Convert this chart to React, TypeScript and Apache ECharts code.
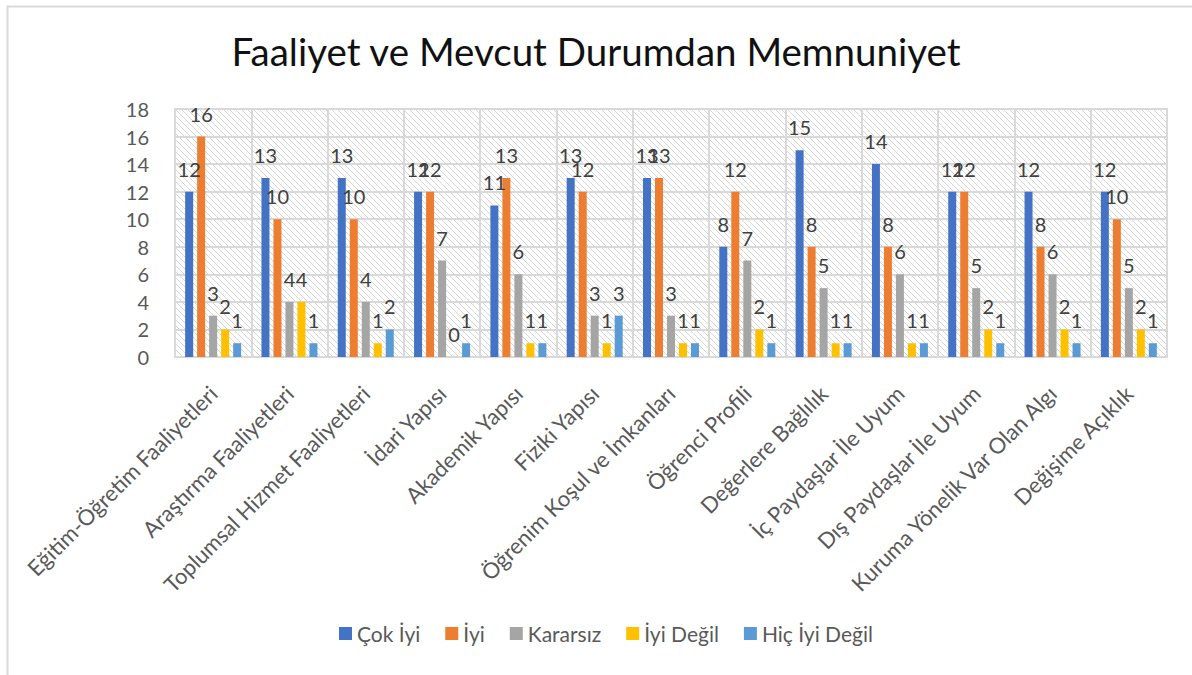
import React, { useEffect, useRef } from "react";
import * as echarts from "echarts";

const categories = [
  "Eğitim-Öğretim Faaliyetleri",
  "Araştırma Faaliyetleri",
  "Toplumsal Hizmet Faaliyetleri",
  "İdari Yapısı",
  "Akademik Yapısı",
  "Fiziki Yapısı",
  "Öğrenim Koşul ve İmkanları",
  "Öğrenci Profili",
  "Değerlere Bağlılık",
  "İç Paydaşlar İle Uyum",
  "Dış Paydaşlar İle Uyum",
  "Kuruma Yönelik Var Olan Algı",
  "Değişime Açıklık",
];

const seriesNames = ["Çok İyi", "İyi", "Kararsız", "İyi Değil", "Hiç İyi Değil"];
const cokIyi = [12, 13, 13, 12, 11, 13, 13, 8, 15, 14, 12, 12, 12];
const iyi = [16, 10, 10, 12, 13, 12, 13, 12, 8, 8, 12, 8, 10];
const kararsiz = [3, 4, 4, 7, 6, 3, 3, 7, 5, 6, 5, 6, 5];
const iyiDegil = [2, 4, 1, 0, 1, 1, 1, 2, 1, 1, 2, 2, 2];
const hicIyiDegil = [1, 1, 2, 1, 1, 3, 1, 1, 1, 1, 1, 1, 1];
const seriesData = [cokIyi, iyi, kararsiz, iyiDegil, hicIyiDegil];
const colors = ["#4472C4", "#ED7D31", "#A5A5A5", "#FFC000", "#5B9BD5"];
const yTicks = [0, 18, 2];

const FONT = "Lato, 'Open Sans', sans-serif";

export default function App() {
  const ref = useRef<HTMLDivElement>(null);
  useEffect(() => {
    if (!ref.current) return;
    const chart = echarts.init(ref.current, null, { renderer: "svg" });
    const tile =
      "data:image/svg+xml;utf8," +
      encodeURIComponent(
        "<svg xmlns='http://www.w3.org/2000/svg' width='6' height='6'><path d='M0,0 L6,6 M-1,5 L1,7 M5,-1 L7,1' stroke='#d6d6d6' stroke-width='1'/></svg>"
      );
    chart.setOption({
      animation: false,
      color: colors,
      textStyle: { fontFamily: FONT },
      title: {
        text: "Faaliyet ve Mevcut Durumdan Memnuniyet",
        left: "center",
        top: 26,
        textStyle: { fontFamily: FONT, fontSize: 38.5, fontWeight: "normal", color: "#111" },
      },
      graphic: [
        {
          type: "rect",
          left: 5,
          top: 4,
          shape: { width: 1200, height: 670 },
          style: { fill: "none", stroke: "#d9d9d9", lineWidth: 2 },
          silent: true,
          z: -10,
        },
      ],
      legend: {
        bottom: 26,
        left: 334,
        itemWidth: 13,
        itemHeight: 13,
        itemGap: 25,
        icon: "rect",
        textStyle: { fontFamily: FONT, fontSize: 21, color: "#595959" },
        data: seriesNames,
      },
      grid: {
        left: 175,
        right: 25,
        top: 109,
        bottom: 318,
        show: true,
        borderColor: "#d9d9d9",
        borderWidth: 2,
        backgroundColor: { image: tile, repeat: "repeat", imageWidth: 6, imageHeight: 6 } as any,
      },
      xAxis: {
        type: "category",
        data: categories,
        axisLine: { show: true, lineStyle: { color: "#d9d9d9", width: 2 } },
        axisTick: { show: false },
        splitLine: { show: true, lineStyle: { color: "#d9d9d9", width: 2 } },
        axisLabel: {
          interval: 0,
          rotate: 45,
          margin: 17,
          padding: [0, 11, 0, 0],
          verticalAlign: "top",
          fontFamily: FONT,
          fontSize: 22,
          color: "#595959",
        },
      },
      yAxis: {
        type: "value",
        min: yTicks[0],
        max: yTicks[1],
        interval: yTicks[2],
        axisLine: { show: false },
        axisTick: { show: false },
        splitLine: { show: true, lineStyle: { color: "#d9d9d9", width: 2 } },
        axisLabel: { fontFamily: FONT, fontSize: 20, color: "#595959", margin: 26 },
      },
      series: seriesNames.map((name, i) => ({
        name,
        type: "bar",
        data: seriesData[i],
        barWidth: 8,
        barGap: "50%",
        itemStyle: { color: colors[i] },
        label: {
          show: true,
          position: "top",
          distance: 13,
          fontFamily: FONT,
          fontSize: 20,
          color: "#404040",
        },
      })),
    });
    return () => chart.dispose();
  }, []);
  return (
    <div
      ref={ref}
      style={{ position: "fixed", left: 0, top: 0, width: 1192, height: 675, background: "#fff" }}
    />
  );
}
